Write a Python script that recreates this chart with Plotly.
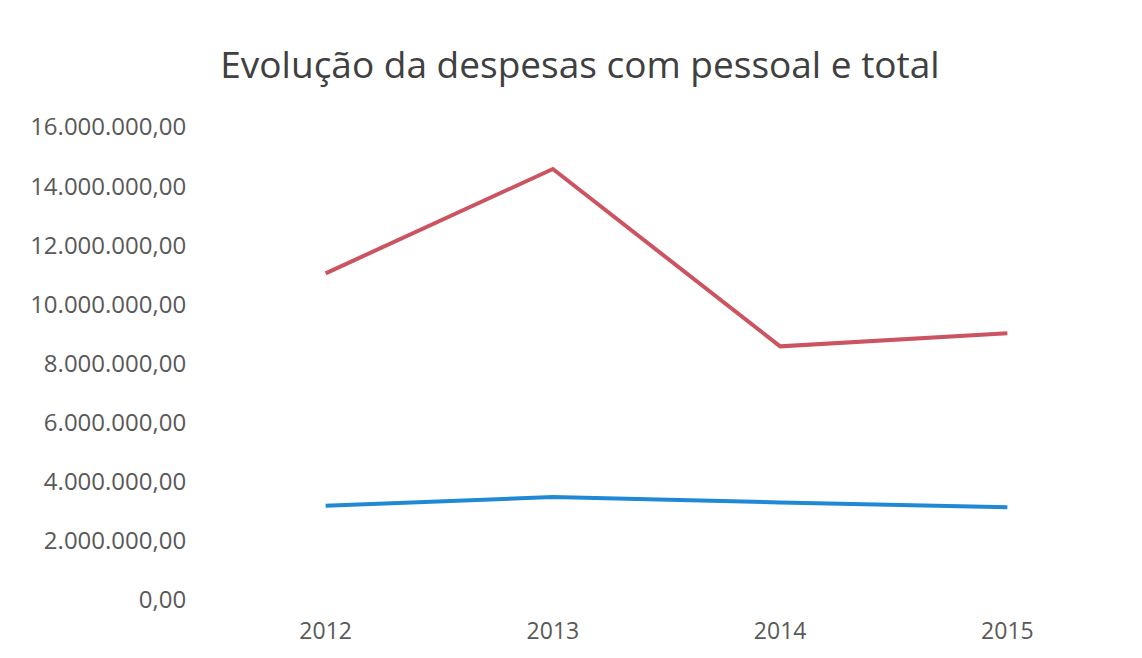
import plotly.graph_objects as pgo

TITLE = 'Evolução da despesas com pessoal e total'

years = ['2012', '2013', '2014', '2015']
despesas_total = [11_050_000, 14_580_000, 8_580_000, 9_020_000]
despesas_pessoal = [3_190_000, 3_480_000, 3_300_000, 3_140_000]
y_ticks = [0, 2e6, 4e6, 6e6, 8e6, 10e6, 12e6, 14e6, 16e6]

FONT = 'Open Sans'
TEXT_GREY = '#595959'

fig = pgo.Figure()

fig.add_trace(pgo.Scatter(
    name='Total',
    x=years,
    y=despesas_total,
    mode='lines',
    line={'color': '#cc5460', 'width': 4},
))
fig.add_trace(pgo.Scatter(
    name='Pessoal',
    x=years,
    y=despesas_pessoal,
    mode='lines',
    line={'color': '#1f89d6', 'width': 4},
))

# the page has an 8px body margin, so the figure is drawn a bit smaller
fig.update_layout(
    width=1126,
    height=642,
    paper_bgcolor='white',
    plot_bgcolor='white',
    showlegend=False,
    separators=',.',
    margin={'l': 204, 'r': 13, 't': 119, 'b': 50},
    title={
        'text': TITLE,
        'x': 0.508,
        'xanchor': 'center',
        'y': 1 - 57 / 642,
        'yanchor': 'middle',
        'yref': 'container',
        'font': {'family': FONT, 'size': 37, 'color': '#404040'},
    },
    font={'family': FONT, 'color': TEXT_GREY},
)

fig.update_xaxes(
    type='category',
    range=[-0.5, 3.5],
    automargin=False,
    showgrid=False,
    showline=False,
    zeroline=False,
    ticks='outside',
    ticklen=10,
    tickcolor='rgba(0,0,0,0)',
    tickfont={'size': 23, 'color': TEXT_GREY},
)
fig.update_yaxes(
    range=[0, 16e6],
    tickvals=y_ticks,
    tickformat=',.2f',
    automargin=False,
    showgrid=False,
    showline=False,
    zeroline=False,
    ticks='outside',
    ticklen=20,
    tickcolor='rgba(0,0,0,0)',
    tickfont={'size': 24, 'color': TEXT_GREY},
)

fig.write_html('out.html')
